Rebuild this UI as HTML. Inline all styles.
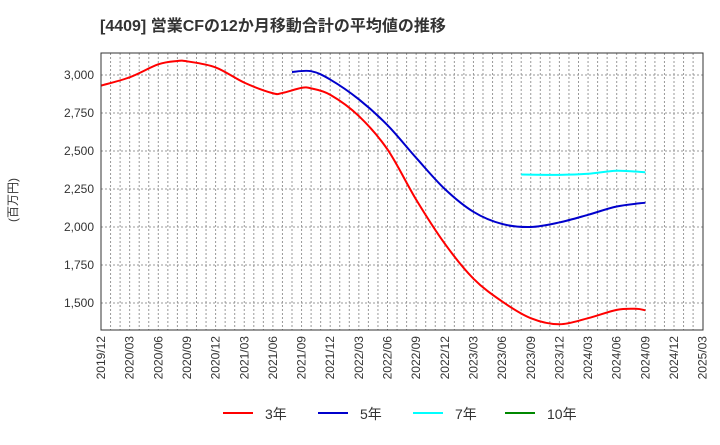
<!DOCTYPE html>
<html><head><meta charset="utf-8"><style>
body{margin:0;background:#fff;}
svg text{font-family:"Liberation Sans","Noto Sans CJK JP",sans-serif;}
</style></head><body>
<svg id="c" width="720" height="440" xmlns="http://www.w3.org/2000/svg">
<text x="100" y="31" font-size="16" font-weight="bold" fill="#333">[4409]  営業CFの12か月移動合計の平均値の推移</text>
<text transform="translate(17,200) rotate(-90)" font-size="12" fill="#333" text-anchor="middle">(百万円)</text>
<g id="grid"></g><g id="axes"></g><g id="series"></g>
<rect x="101" y="53" width="602" height="277" fill="none" stroke="#333" stroke-width="1"/>
<g id="legend"></g>
</svg>
<script>
const xLabels=["2019/12","2020/03","2020/06","2020/09","2020/12","2021/03","2021/06","2021/09","2021/12","2022/03","2022/06","2022/09","2022/12","2023/03","2023/06","2023/09","2023/12","2024/03","2024/06","2024/09","2024/12","2025/03"];
const yTicks=[1500,1750,2000,2250,2500,2750,3000];
// month index from 2019/12
const s3m=[0,3,6,8,9,12,15,18,19,21,22,24,27,30,33,36,39,42,45,48,51,54,56,57];
const s3v=[2930,2985,3070,3092,3090,3050,2950,2880,2882,2915,2912,2870,2730,2510,2180,1890,1660,1510,1400,1360,1400,1455,1462,1452];
const s5m=[20,22,24,27,30,33,36,39,42,45,48,51,54,57];
const s5v=[3020,3025,2970,2840,2670,2455,2250,2100,2020,2000,2030,2080,2135,2160];
const s7m=[44,48,51,54,57];
const s7v=[2345,2343,2350,2370,2360];
const s10m=[];const s10v=[];
const X=m=>101+m*9.55, Y=v=>303-(v-1500)*0.152;
const NS="http://www.w3.org/2000/svg";
function el(t,a,p){const e=document.createElementNS(NS,t);for(const k in a)e.setAttribute(k,a[k]);document.getElementById(p).appendChild(e);return e;}
for(let m=1;m<63;m++){const l=el('line',{x1:X(m),x2:X(m),y1:53,y2:330,stroke:'#999','stroke-width':1,'stroke-dasharray':'2,2'},'grid');

}
yTicks.forEach(v=>{const l=el('line',{x1:101,x2:703,y1:Y(v),y2:Y(v),stroke:'#999','stroke-width':1,'stroke-dasharray':'2,2'},'grid');


const t=el('text',{x:94,y:Y(v)+4,'font-size':12,fill:'#333','text-anchor':'end'},'axes');t.textContent=v.toLocaleString('en-US');

});
xLabels.forEach((s,i)=>{const x=X(i*3);const t=el('text',{transform:`translate(${x+4},336) rotate(-90)`,'font-size':12,fill:'#333','text-anchor':'end'},'axes');t.textContent=s;

});
function path(ms,vs){const p=ms.map((m,i)=>[X(m),Y(vs[i])]);if(p.length<2)return '';let d=`M${p[0][0]},${p[0][1]}`;
for(let i=0;i<p.length-1;i++){const p0=p[i-1]||p[i],p1=p[i],p2=p[i+1],p3=p[i+2]||p2;
d+=` C${p1[0]+(p2[0]-p0[0])/6},${p1[1]+(p2[1]-p0[1])/6} ${p2[0]-(p3[0]-p1[0])/6},${p2[1]-(p3[1]-p1[1])/6} ${p2[0]},${p2[1]}`;}return d;}
[[s3m,s3v,'#f00','series-3yr'],[s5m,s5v,'#00c','series-5yr'],[s7m,s7v,'#0ff','series-7yr'],[s10m,s10v,'#080','series-10yr']].forEach(([m,v,c,n])=>{
const d=path(m,v);if(!d)return;const p=el('path',{d:d,fill:'none',stroke:c,'stroke-width':2},'series');

});
[['3年','#f00',223],['5年','#00c',318],['7年','#0ff',413],['10年','#080',505]].forEach(([t,c,x])=>{
const l=el('line',{x1:x,x2:x+30,y1:413,y2:413,stroke:c,'stroke-width':2},'legend');


const tx=el('text',{x:x+42,y:419,'font-size':14,fill:'#333'},'legend');tx.textContent=t;

});
</script>
</body></html>
